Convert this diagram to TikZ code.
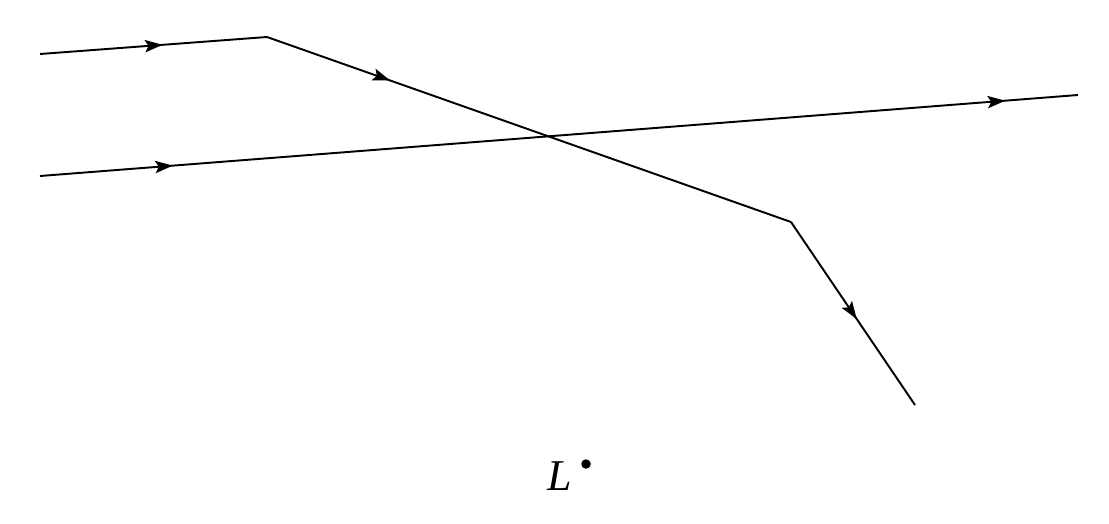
\documentclass[tikz,border=0pt]{standalone}
\usepackage{fontspec}
\newfontfamily\lblfont{Liberation Serif}
\usetikzlibrary{arrows.meta,decorations.markings}
\begin{document}
\begin{tikzpicture}[x=0.02cm,y=-0.02cm]
\tikzset{
  ray/.style={line width=1.1pt, line join=miter},
  arr/.style={postaction={decorate},decoration={markings,mark=at position #1 with {\arrow{Stealth[length=10pt,width=7pt,inset=2pt]}}}},
  lbl/.style={inner sep=0pt, font=\lblfont\itshape\fontsize{25}{30}\selectfont},
  dotnode/.style={circle, fill=black, inner sep=0pt, minimum size=0.19cm}
}
\useasboundingbox (0,0) rectangle (1109,524);
\coordinate (a0) at (40,54);
\coordinate (a1) at (267,37);
\coordinate (a2) at (791,222);
\coordinate (a3) at (915,405);
\coordinate (b0) at (40,176);
\coordinate (b1) at (1078,95);
\draw[ray, arr=0.54] (a0) -- (a1);
\draw[ray, arr=0.235] (a1) -- (a2);
\draw[ray, arr=0.53] (a2) -- (a3);
\draw[ray, postaction={decorate}, decoration={markings,
  mark=at position 0.128 with {\arrow{Stealth[length=10pt,width=7pt,inset=2pt]}},
  mark=at position 0.93 with {\arrow{Stealth[length=10pt,width=7pt,inset=2pt]}}}] (b0) -- (b1);
\node[lbl] (L) at (560,476) {L};
\node[dotnode] (Ldot) at (586,464) {};
\end{tikzpicture}
\end{document}
